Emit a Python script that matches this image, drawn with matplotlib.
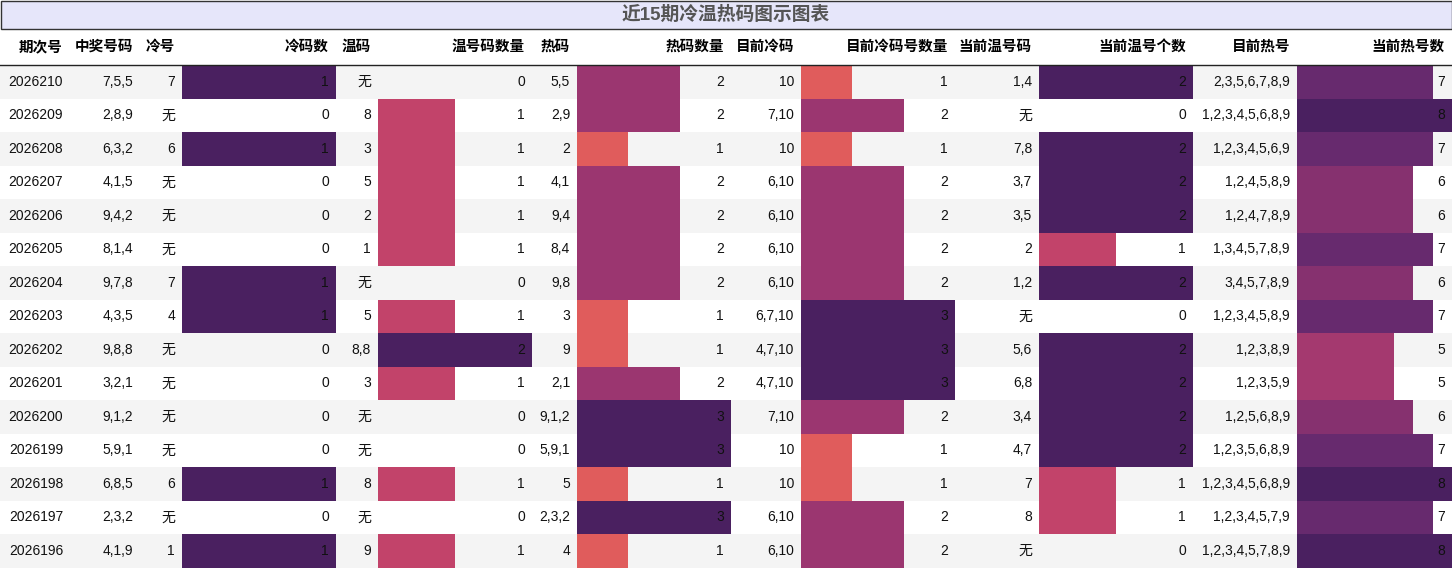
import matplotlib
matplotlib.use("Agg")
import matplotlib.pyplot as plt
from matplotlib.colors import LinearSegmentedColormap
from matplotlib.patches import Rectangle

plt.rcParams['font.family'] = ['Liberation Sans', 'Noto Sans CJK SC', 'DejaVu Sans']

title = "近15期冷温热码图示图表"
headers = ["期次号", "中奖号码", "冷号", "冷码数", "温码", "温号码数量", "热码", "热码数量",
           "目前冷码", "目前冷码号数量", "当前温号码", "当前温号个数", "目前热号", "当前热号数"]
periods = ["2026210","2026209","2026208","2026207","2026206","2026205","2026204","2026203",
           "2026202","2026201","2026200","2026199","2026198","2026197","2026196"]
winning = ["7,5,5","2,8,9","6,3,2","4,1,5","9,4,2","8,1,4","9,7,8","4,3,5","9,8,8","3,2,1",
           "9,1,2","5,9,1","6,8,5","2,3,2","4,1,9"]
cold = ["7","无","6","无","无","无","7","4","无","无","无","无","6","无","1"]
cold_n = [1,0,1,0,0,0,1,1,0,0,0,0,1,0,1]
warm = ["无","8","3","5","2","1","无","5","8,8","3","无","无","8","无","9"]
warm_n = [0,1,1,1,1,1,0,1,2,1,0,0,1,0,1]
hot = ["5,5","2,9","2","4,1","9,4","8,4","9,8","3","9","2,1","9,1,2","5,9,1","5","2,3,2","4"]
hot_n = [2,2,1,2,2,2,2,1,1,2,3,3,1,3,1]
cur_cold = ["10","7,10","10","6,10","6,10","6,10","6,10","6,7,10","4,7,10","4,7,10","7,10","10","10","6,10","6,10"]
cur_cold_n = [1,2,1,2,2,2,2,3,3,3,2,1,1,2,2]
cur_warm = ["1,4","无","7,8","3,7","3,5","2","1,2","无","5,6","6,8","3,4","4,7","7","8","无"]
cur_warm_n = [2,0,2,2,2,1,2,0,2,2,2,2,1,1,0]
cur_hot = ["2,3,5,6,7,8,9","1,2,3,4,5,6,8,9","1,2,3,4,5,6,9","1,2,4,5,8,9","1,2,4,7,8,9",
           "1,3,4,5,7,8,9","3,4,5,7,8,9","1,2,3,4,5,8,9","1,2,3,8,9","1,2,3,5,9","1,2,5,6,8,9",
           "1,2,3,5,6,8,9","1,2,3,4,5,6,8,9","1,2,3,4,5,7,9","1,2,3,4,5,7,8,9"]
cur_hot_n = [7,8,7,6,6,7,6,7,5,5,6,7,8,7,8]

W, H = 1452, 568
edges = [0, 70, 140, 182, 336, 378, 532, 577, 731, 801, 955, 1039, 1193, 1297, 1452]
columns = [periods, winning, cold, cold_n, warm, warm_n, hot, hot_n,
           cur_cold, cur_cold_n, cur_warm, cur_warm_n, cur_hot, cur_hot_n]
bar_cols = {3, 5, 7, 9, 11, 13}

cmap = LinearSegmentedColormap.from_list("c", [(0, "#f7b07a"), (0.333, "#e05c5c"), (0.5, "#c2436a"),
                                              (0.667, "#9b3670"), (0.875, "#682a6e"), (1, "#4a2060")])

fig = plt.figure(figsize=(W/100, H/100), dpi=100)
ax = fig.add_axes([0, 0, 1, 1])
ax.set_xlim(0, W); ax.set_ylim(H, 0); ax.axis('off')

ax.add_patch(Rectangle((0.5, 0.5), W-1, 28, facecolor="#e6e6fa", edgecolor="#333333", lw=1))
ax.text(W/2, 15, title, ha='center', va='center', fontsize=13.5, fontweight='bold', color='#555555')

top = 65; rh = 33.5
for i in range(len(periods)):
    y0 = top + i*rh
    ax.add_patch(Rectangle((0, y0), W, rh, facecolor="#f4f4f4" if i % 2 == 0 else "white", lw=0))
ax.plot([0, W], [top, top], color="#222222", lw=1)

for c, col in enumerate(columns):
    x0, x1 = edges[c], edges[c+1]
    ax.text(x1-7, 47, headers[c], ha='right', va='center', fontsize=10.5, fontweight='bold')
    if c in bar_cols:
        mx = max(col)
        ys = [top + i*rh + rh/2 for i in range(len(col))]
        ax.barh(ys, [v/mx*(x1-x0) for v in col], height=rh, left=x0,
                color=[cmap(v/mx) for v in col], lw=0)
    for i, v in enumerate(col):
        ax.text(x1-7, top + i*rh + rh/2, str(v), ha='right', va='center', fontsize=10, color='#111111')

fig.savefig("out.png", dpi=100)
